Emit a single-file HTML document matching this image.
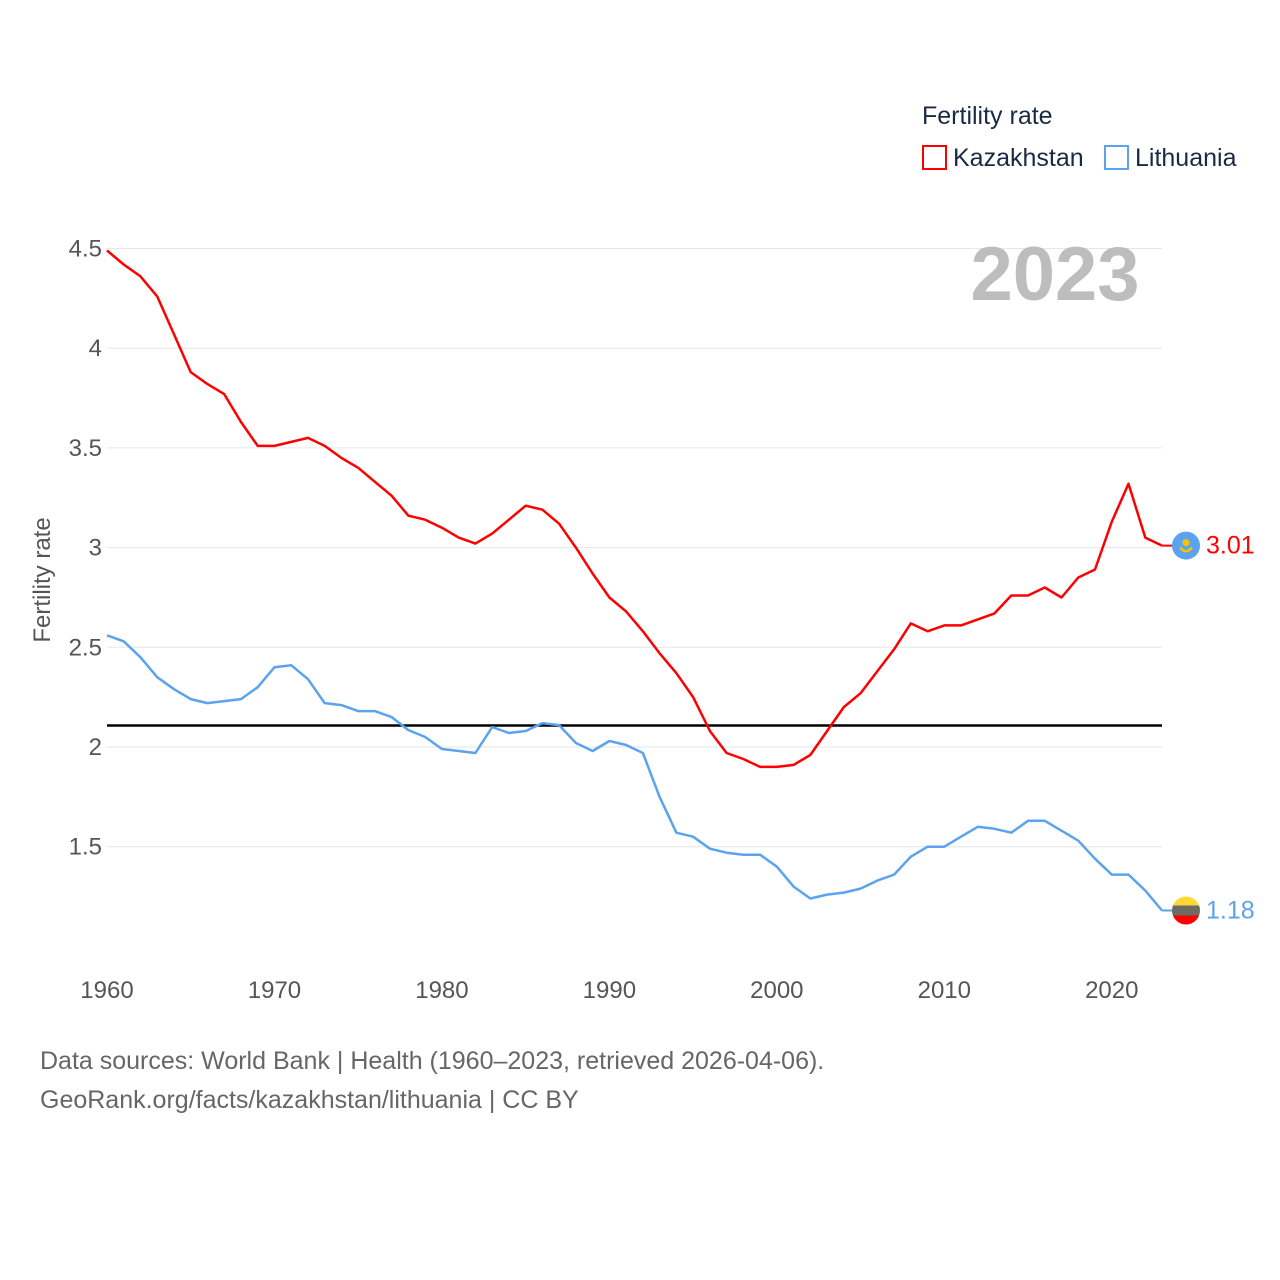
<!DOCTYPE html>
<html><head><meta charset="utf-8"><style>
body{margin:0;background:#fff;}
svg{display:block;font-family:"Liberation Sans",sans-serif;}
</style></head><body>
<svg id="chart" width="1280" height="1280">
<g id="grid"></g>
<g id="yticks"></g>
<g id="xticks"></g>
<text x="1055" y="300" text-anchor="middle" font-size="76" font-weight="bold" fill="#bdbdbd">2023</text>
<text x="50" y="580" transform="rotate(-90 50 580)" text-anchor="middle" font-size="24" fill="#555">Fertility rate</text>
<g>
<text x="922" y="124" font-size="25" fill="#1a2a44">Fertility rate</text>
<g><rect x="923" y="146" width="23" height="23" fill="none" stroke="#f00" stroke-width="2"/><text x="953" y="166" font-size="25" fill="#1a2a44">Kazakhstan</text></g>
<g><rect x="1105" y="146" width="23" height="23" fill="none" stroke="#5ba3ee" stroke-width="2"/><text x="1135" y="166" font-size="25" fill="#1a2a44">Lithuania</text></g>
</g>
<line x1="107" x2="1162" y1="725.5" y2="725.5" stroke="#000" stroke-width="2.5"/>
<path id="kz" fill="none" stroke="#f00" stroke-width="2.5" stroke-linejoin="round"/>
<path id="lt" fill="none" stroke="#5ba3ee" stroke-width="2.5" stroke-linejoin="round"/>
<g id="ends"></g>
<text x="40" y="1069" font-size="25" fill="#666">Data sources: World Bank | Health (1960–2023, retrieved 2026-04-06).</text>
<text x="40" y="1108" font-size="25" fill="#666">GeoRank.org/facts/kazakhstan/lithuania | CC BY</text>
</svg>
<script>
const years=[];for(let y=1960;y<=2023;y++)years.push(y);
const kazakhstan=[4.49,4.42,4.36,4.26,4.07,3.88,3.82,3.77,3.63,3.51,3.51,3.53,3.55,3.51,3.45,3.40,3.33,3.26,3.16,3.14,3.10,3.05,3.02,3.07,3.14,3.21,3.19,3.12,3.00,2.87,2.75,2.68,2.58,2.47,2.37,2.25,2.08,1.97,1.94,1.90,1.90,1.91,1.96,2.08,2.20,2.27,2.38,2.49,2.62,2.58,2.61,2.61,2.64,2.67,2.76,2.76,2.80,2.75,2.85,2.89,3.13,3.32,3.05,3.01];
const lithuania=[2.56,2.53,2.45,2.35,2.29,2.24,2.22,2.23,2.24,2.30,2.40,2.41,2.34,2.22,2.21,2.18,2.18,2.15,2.085,2.05,1.99,1.98,1.97,2.10,2.07,2.08,2.12,2.11,2.02,1.98,2.03,2.01,1.97,1.75,1.57,1.55,1.49,1.47,1.46,1.46,1.40,1.30,1.24,1.26,1.27,1.29,1.33,1.36,1.45,1.50,1.50,1.55,1.60,1.59,1.57,1.63,1.63,1.58,1.53,1.44,1.36,1.36,1.28,1.18];
const yTicks=[1.5,2,2.5,3,3.5,4,4.5];
const xTicks=[1960,1970,1980,1990,2000,2010,2020];
const X=y=>107+(y-1960)*(1162-107)/63;
const Y=v=>747-(v-2)*199.4;
const ns="http://www.w3.org/2000/svg";
const mk=(t,a,p)=>{const e=document.createElementNS(ns,t);for(const k in a)e.setAttribute(k,a[k]);p.appendChild(e);return e;};
const grid=document.getElementById('grid'),yt=document.getElementById('yticks'),xt=document.getElementById('xticks');
yTicks.forEach(v=>{
 const l=mk('line',{x1:107,x2:1162,y1:Y(v),y2:Y(v),stroke:'#e6e6e6','stroke-width':1},grid);
 
 
 const t=mk('text',{x:102,y:Y(v)+8,'text-anchor':'end','font-size':24,fill:'#555'},yt);
 t.textContent=String(v);
 
 
});
xTicks.forEach(v=>{
 const t=mk('text',{x:X(v),y:998,'text-anchor':'middle','font-size':24,fill:'#555'},xt);
 t.textContent=String(v);
 
 
});
const path=a=>a.map((v,i)=>(i?'L':'M')+X(years[i]).toFixed(1)+','+Y(v).toFixed(1)).join('');
document.getElementById('kz').setAttribute('d',path(kazakhstan));
document.getElementById('lt').setAttribute('d',path(lithuania));
const ends=document.getElementById('ends');
const lastK=kazakhstan[kazakhstan.length-1],lastL=lithuania[lithuania.length-1];
const ex=X(2023)+24;
const kf=mk('g',{},ends);


mk('line',{x1:X(2023),x2:ex,y1:Y(lastK),y2:Y(lastK),stroke:'#f00','stroke-width':2},kf);
mk('circle',{cx:ex,cy:Y(lastK),r:14,fill:'#5ba3ee'},kf);
mk('circle',{cx:ex,cy:Y(lastK)-3,r:3.5,fill:'#f5c400'},kf);
mk('path',{d:`M${ex-6},${Y(lastK)+2} Q${ex},${Y(lastK)+9} ${ex+6},${Y(lastK)+2}`,stroke:'#f5c400','stroke-width':2.5,fill:'none'},kf);
const kt=mk('text',{x:ex+20,y:Y(lastK)+8,'font-size':25,fill:'#f00'},ends);
kt.textContent=lastK.toFixed(2);


const lf=mk('g',{},ends);


mk('line',{x1:X(2023),x2:ex,y1:Y(lastL),y2:Y(lastL),stroke:'#5ba3ee','stroke-width':2},lf);
mk('clipPath',{id:'lc'},lf);
mk('circle',{cx:ex,cy:Y(lastL),r:14},document.getElementById('lc'));
const cy=Y(lastL);
mk('rect',{x:ex-14,y:cy-14,width:28,height:10,fill:'#fdd835','clip-path':'url(#lc)'},lf);
mk('rect',{x:ex-14,y:cy-5,width:28,height:10,fill:'#6b6b63','clip-path':'url(#lc)'},lf);
mk('rect',{x:ex-14,y:cy+5,width:28,height:10,fill:'#f00','clip-path':'url(#lc)'},lf);
const lt=mk('text',{x:ex+20,y:cy+8,'font-size':25,fill:'#5ba3ee'},ends);
lt.textContent=lastL.toFixed(2);


</script>
</body></html>
